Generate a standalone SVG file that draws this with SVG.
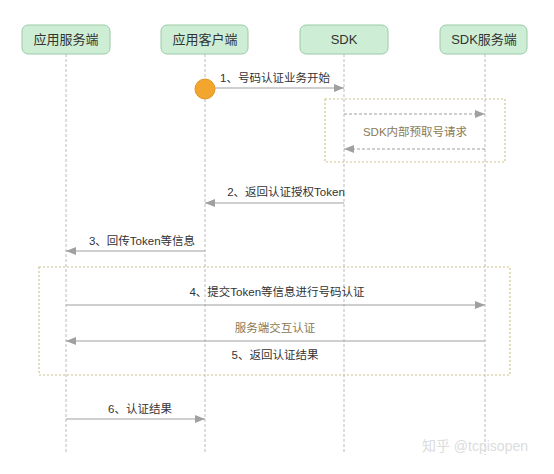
<svg xmlns="http://www.w3.org/2000/svg" width="554" height="474" viewBox="0 0 554 474">
<defs>
<style>
.box{fill:#cdeed5;stroke:#9ccaa6;stroke-width:1}
.hd{font-family:"Liberation Sans","Noto Sans CJK SC",sans-serif;font-size:13px;fill:#333;text-anchor:middle}
.lb{font-family:"Liberation Sans","Noto Sans CJK SC",sans-serif;font-size:11.5px;fill:#333;text-anchor:middle}
.nt{font-family:"Liberation Sans","Noto Sans CJK SC",sans-serif;font-size:11.5px;fill:#8a7a55;text-anchor:middle}
.life{stroke:#bbb;stroke-width:1;stroke-dasharray:3,2;fill:none}
.msg{stroke:#a0a0a0;stroke-width:1.2;fill:none;marker-end:url(#ah)}
.dmsg{stroke:#a0a0a0;stroke-width:1.2;fill:none;stroke-dasharray:3,2;marker-end:url(#ah)}
.frame{fill:none;stroke:#cfc58a;stroke-width:1.2;stroke-dasharray:2,2}
</style>
<marker id="ah" markerWidth="10" markerHeight="8" refX="10" refY="4" orient="auto" markerUnits="userSpaceOnUse">
<path d="M0,0 L10,4 L0,8 Z" fill="#a0a0a0"/>
</marker>
</defs>
<rect width="554" height="474" fill="#fff"/>
<g id="lifelines">
<line class="life" x1="66" y1="54" x2="66" y2="452"/>
<line class="life" x1="205" y1="54" x2="205" y2="452"/>
<line class="life" x1="344" y1="54" x2="344" y2="452"/>
<line class="life" x1="485" y1="54" x2="485" y2="455"/>
</g>
<g id="n-appserver"><rect class="box" x="22" y="25" width="88" height="29" rx="6"/><text class="hd" x="66" y="44">应用服务端</text></g>
<g id="n-appclient"><rect class="box" x="161" y="25" width="87" height="29" rx="6"/><text class="hd" x="205" y="44">应用客户端</text></g>
<g id="n-sdk"><rect class="box" x="300" y="25" width="88" height="29" rx="6"/><text class="hd" x="344" y="44">SDK</text></g>
<g id="n-sdkserver"><rect class="box" x="440" y="25" width="87" height="29" rx="6"/><text class="hd" x="484" y="44">SDK服务端</text></g>
<g id="frames">
<rect class="frame" x="325" y="99" width="180" height="63"/>
<rect class="frame" x="39" y="267" width="471" height="108"/>
</g>
<g id="connectors">
<line class="msg" x1="205" y1="88" x2="344" y2="88"/>
<line class="dmsg" x1="344" y1="114" x2="485" y2="114"/>
<line class="dmsg" x1="485" y1="149" x2="344" y2="149"/>
<line class="msg" x1="344" y1="203" x2="205" y2="203"/>
<line class="msg" x1="205" y1="251" x2="66" y2="251"/>
<line class="msg" x1="66" y1="305" x2="485" y2="305"/>
<line class="msg" x1="485" y1="341" x2="66" y2="341"/>
<line class="msg" x1="66" y1="419" x2="205" y2="419"/>
</g>
<g id="start"><circle cx="205" cy="89" r="10" fill="#f2a62d" stroke="#e3952a" stroke-width="1"/></g>
<g id="labels">
<text class="lb" x="275" y="82">1、号码认证业务开始</text>
<text class="nt" x="415" y="136">SDK内部预取号请求</text>
<text class="lb" x="286" y="196">2、返回认证授权Token</text>
<text class="lb" x="142" y="245">3、回传Token等信息</text>
<text class="lb" x="277" y="296">4、提交Token等信息进行号码认证</text>
<text class="nt" x="275" y="332">服务端交互认证</text>
<text class="lb" x="275" y="359">5、返回认证结果</text>
<text class="lb" x="140" y="413">6、认证结果</text>
</g>
<text x="475" y="451" font-family="Liberation Sans,'Noto Sans CJK SC',sans-serif" font-size="14" fill="#dcdcdc" text-anchor="middle">知乎 @tcpisopen</text>
</svg>
